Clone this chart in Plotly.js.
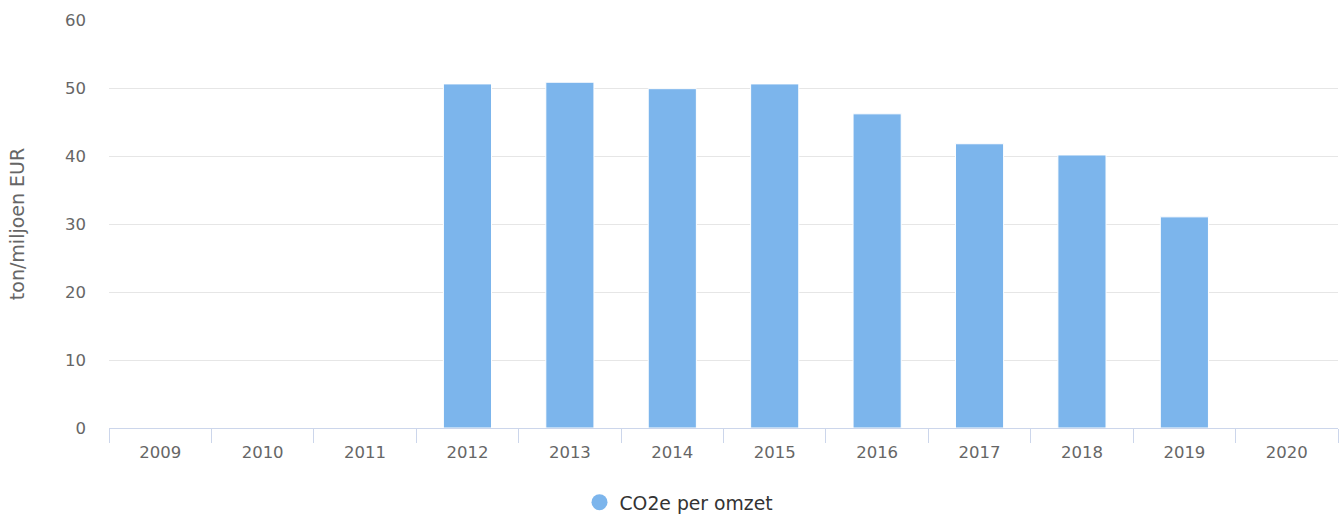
<!DOCTYPE html>
<html>
<head>
<meta charset="utf-8">
<script src="https://cdn.plot.ly/plotly-3.0.1.min.js"></script>
<style>html,body{margin:0;padding:0;background:#fff;}#chart{width:1343px;height:518px;}</style>
</head>
<body>
<div id="chart"></div>
<script>
const years = ['2009','2010','2011','2012','2013','2014','2015','2016','2017','2018','2019','2020'];
const co2PerOmzet = [null, null, null, 50.6, 50.85, 49.9, 50.6, 46.2, 41.8, 40.15, 31.05, null];
const seriesName = 'CO2e per omzet';
const yTitle = 'ton/miljoen EUR';

const font = 'Verdana, "DejaVu Sans", sans-serif';
const barColor = '#7cb5ec';

const traces = [
  {
    type: 'bar', x: years, y: co2PerOmzet, name: seriesName, showlegend: false,
    marker: {color: barColor, line: {color: '#ffffff', width: 1}},
    hoverinfo: 'x+y'
  },
  {
    type: 'scatter', mode: 'markers', x: [years[0]], y: [null], name: seriesName,
    marker: {symbol: 'circle', size: 18, color: barColor}, showlegend: true, hoverinfo: 'skip'
  }
];

const layout = {
  width: 1343, height: 518,
  margin: {l: 109, r: 5, t: 20, b: 90},
  paper_bgcolor: '#fff', plot_bgcolor: '#fff',
  font: {family: font, size: 16.5, color: '#666666'},
  bargap: 0.53,
  showlegend: true,
  legend: {orientation: 'h', xref: 'container', x: 0.4315, xanchor: 'left',
           yref: 'container', y: 0.03, yanchor: 'middle',
           font: {family: font, size: 18.8, color: '#333333'}, bgcolor: 'rgba(0,0,0,0)'},
  xaxis: {
    type: 'category', categoryorder: 'array', categoryarray: years,
    range: [-0.5, 11.5], automargin: false,
    showgrid: false, zeroline: false,
    showline: true, linecolor: '#ccd6eb', linewidth: 1,
    ticks: 'outside', tickson: 'boundaries', ticklen: 14, tickcolor: '#ccd6eb', tickwidth: 1,
    ticklabelstandoff: 9,
    tickfont: {family: font, size: 16.5, color: '#666666'},
    fixedrange: true
  },
  yaxis: {
    range: [0, 60], tickvals: [0,10,20,30,40,50,60], automargin: false,
    showgrid: true, gridcolor: '#e6e6e6', gridwidth: 1,
    zeroline: false, showline: false, ticks: '',
    ticklabelstandoff: 22,
    tickfont: {family: font, size: 16.5, color: '#666666'},
    title: {text: yTitle, font: {family: font, size: 19, color: '#666666'}, standoff: 35},
    fixedrange: true
  }
};

Plotly.newPlot('chart', traces, layout, {displayModeBar: false, staticPlot: true});
</script>
</body>
</html>
